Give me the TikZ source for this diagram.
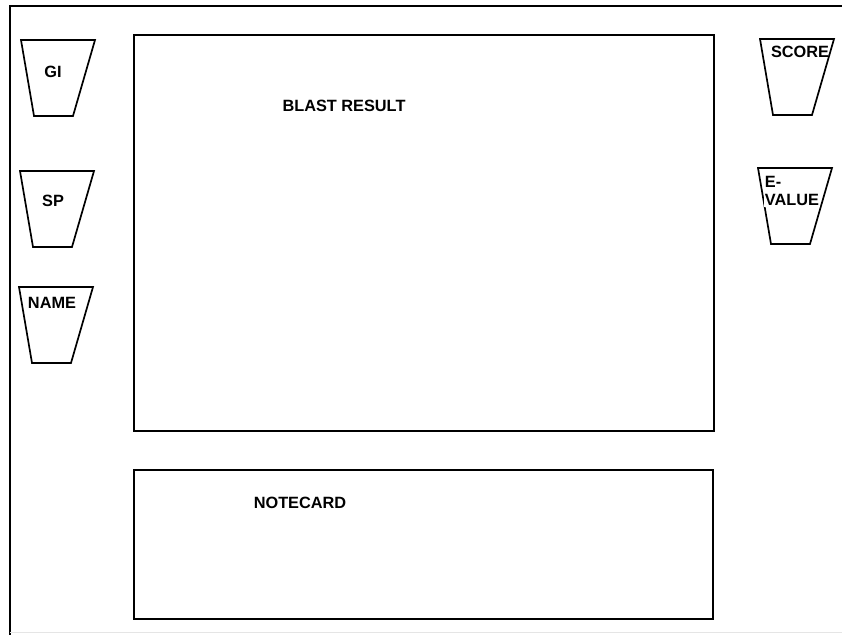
\documentclass[tikz,border=0pt]{standalone}
\usepackage{fontspec}
\setmainfont{Liberation Sans}
\tikzset{
    panel/.style = {rectangle, draw=black, line width=1.2pt, inner sep=0pt},
    slot/.style = {draw=black, line width=1.2pt, line join=miter},
    tag/.style = {font=\fontsize{11.6}{13}\selectfont\bfseries, inner sep=1pt},
}

\begin{document}
\begin{tikzpicture}[x=0.025cm, y=-0.025cm]
        \useasboundingbox (0,0) rectangle (842,635);
        \draw[line width=1.3pt] (842,6) -- (10,6) -- (10,635);
        \draw[black!10, line width=0.6pt] (10,632) -- (842,632);
        \node[panel, minimum width=14.5cm, minimum height=9.9cm] (blast) at (424,233) {};
        \node[tag] (blasttext) at (344,106) {BLAST RESULT};
        \node[panel, minimum width=14.475cm, minimum height=3.725cm] (notecard) at (423.5,544.5) {};
        \node[tag] (notetext) at (300,503) {NOTECARD};
        % trapezoid slots, top left corners
        \foreach \x/\y in {21/40, 20/171, 19/287, 760/39, 758/168}
          \draw[slot] (\x,\y) -- ++(74,0) -- ++(-22,76) -- ++(-39,0) -- cycle;
        % left column
        \node[tag] (gitext) at (53,72) {GI};
        \node[tag] (sptext) at (53,201) {SP};
        \node[tag] (nametext) at (52,303) {NAME};
        % right column
        \node[tag] (scoretext) at (800,52) {SCORE};
        \node[tag, fill=white, align=left] (evaluetext) at (792,191) {E-\\VALUE};
      \end{tikzpicture}
\end{document}
